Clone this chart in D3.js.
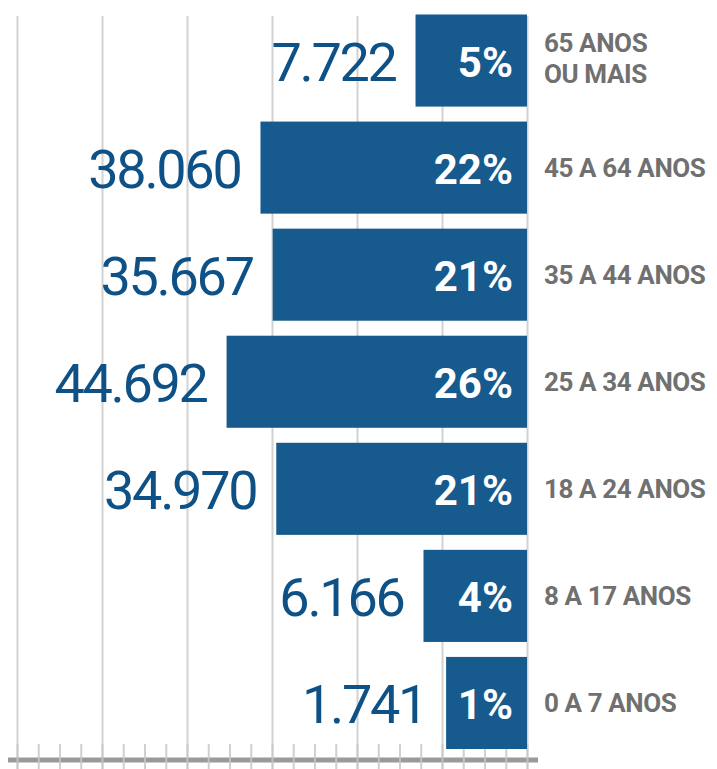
<!DOCTYPE html>
<html>
<head>
<meta charset="utf-8">
<script src="https://cdn.jsdelivr.net/npm/d3@7"></script>
<style>
  html, body { margin: 0; padding: 0; background: #ffffff; }
  svg { display: block; }
</style>
</head>
<body>
<div id="chart"></div>
<script>
// ---- Data (top to bottom) ----
const categories = [
  ["65 ANOS", "OU MAIS"],
  ["45 A 64 ANOS"],
  ["35 A 44 ANOS"],
  ["25 A 34 ANOS"],
  ["18 A 24 ANOS"],
  ["8 A 17 ANOS"],
  ["0 A 7 ANOS"]
];
const values = [7722, 38060, 35667, 44692, 34970, 6166, 1741];
const percents = [5, 22, 21, 26, 21, 4, 1];
const gridSteps = 24; // minor tick intervals on the base axis (every 4th is a major grid line)

// ---- Layout ----
const W = 717, H = 769;
const barRight = 527;
const blue = "#165a8e", numBlue = "#0e5186", labelGray = "#707070";

const svg = d3.select("#chart").append("svg")
  .attr("width", W).attr("height", H);

const keys = categories.map((c, i) => i);
const y = d3.scaleBand().domain(keys).range([14.5, 749]).paddingInner(0.14).paddingOuter(0);

// value scale: bar's left edge position (bars grow leftward from barRight)
const x = d3.scaleLinear().domain([0, 45000]).range([455, 225]);

// grid scale
const g = d3.scaleLinear().domain([0, gridSteps]).range([17.5, 527.5]);
const gridTicks = d3.range(0, gridSteps + 1);

// major grid lines
svg.append("g").selectAll("line")
  .data(gridTicks.filter(t => t % 4 === 0))
  .join("line")
  .attr("x1", d => g(d)).attr("x2", d => g(d))
  .attr("y1", 16).attr("y2", H)
  .attr("stroke", "#d2d2d2").attr("stroke-width", 2);

// base axis line
svg.append("line")
  .attr("x1", 8).attr("x2", 538)
  .attr("y1", 760).attr("y2", 760)
  .attr("stroke", "#9a9a9a").attr("stroke-width", 5);

// minor ticks
svg.append("g").selectAll("line")
  .data(gridTicks.filter(t => t % 4 !== 0))
  .join("line")
  .attr("x1", d => g(d)).attr("x2", d => g(d))
  .attr("y1", 744).attr("y2", H)
  .attr("stroke", "#c8c8c8").attr("stroke-width", 2).attr("stroke-opacity", 0.85);

// major ticks over axis line
svg.append("g").selectAll("line")
  .data(gridTicks.filter(t => t % 4 === 0))
  .join("line")
  .attr("x1", d => g(d)).attr("x2", d => g(d))
  .attr("y1", 744).attr("y2", H)
  .attr("stroke", "#c8c8c8").attr("stroke-width", 2).attr("stroke-opacity", 0.85);

// bars
svg.append("g").selectAll("rect")
  .data(values)
  .join("rect")
  .attr("x", d => x(d))
  .attr("width", d => barRight - x(d))
  .attr("y", (d, i) => y(i))
  .attr("height", y.bandwidth())
  .attr("fill", blue);

const fmt = v => d3.format(",")(v).replace(/,/g, ".");

// value labels
svg.append("g").selectAll("text")
  .data(values)
  .join("text")
  .attr("x", d => x(d) - 20)
  .attr("y", (d, i) => y(i) + y.bandwidth() / 2 + 20)
  .attr("text-anchor", "end")
  .attr("font-family", "Roboto, sans-serif")
  .attr("font-size", 54)
  .attr("letter-spacing", "-2.3px")
  .attr("fill", numBlue)
  .text(d => fmt(d));

// percent labels
svg.append("g").selectAll("text")
  .data(percents)
  .join("text")
  .attr("x", 513)
  .attr("y", (d, i) => y(i) + y.bandwidth() / 2 + 16)
  .attr("text-anchor", "end")
  .attr("font-family", "Roboto, sans-serif")
  .attr("font-weight", "bold")
  .attr("font-size", 42)
  .attr("fill", "#ffffff")
  .text(d => d + "%");

// category labels
const cat = svg.append("g").selectAll("text")
  .data(categories)
  .join("text")
  .attr("font-family", "Roboto, sans-serif")
  .attr("font-weight", "bold")
  .attr("font-size", 26)
  .attr("letter-spacing", "-0.4px")
  .attr("fill", labelGray);
cat.each(function(lines, i) {
  const cy = y(i) + y.bandwidth() / 2;
  const lh = 31;
  const start = cy + 9.5 - (lines.length - 1) * lh / 2 - (lines.length > 1 ? 2.5 : 0);
  d3.select(this).selectAll("tspan")
    .data(lines)
    .join("tspan")
    .attr("x", 544)
    .attr("y", (d, j) => start + j * lh)
    .text(d => d);
});
</script>
</body>
</html>
